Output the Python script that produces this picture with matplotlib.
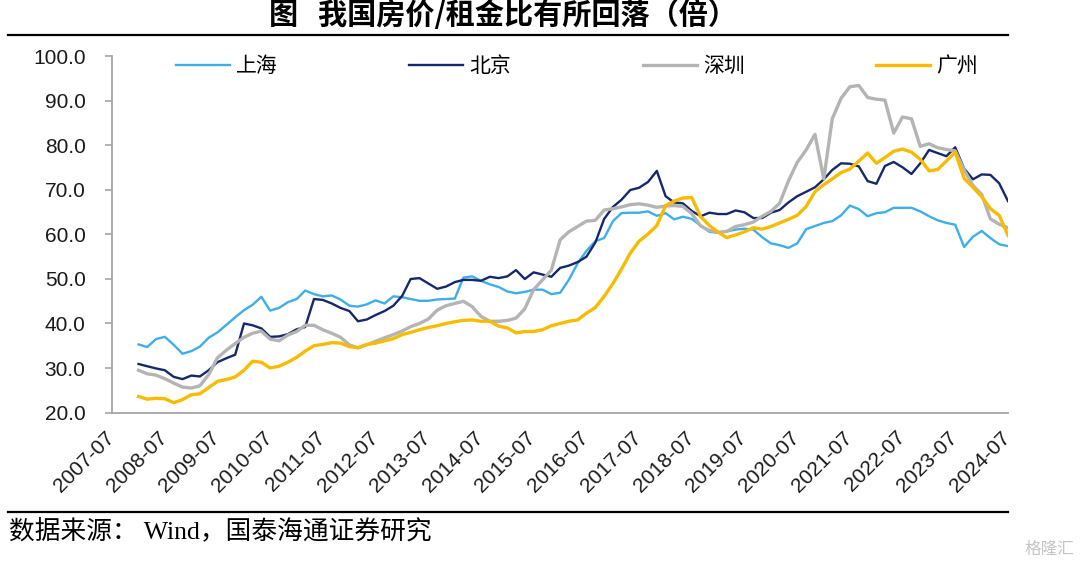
import pandas as pd
import matplotlib
matplotlib.use('Agg')
import matplotlib.pyplot as plt
from matplotlib.lines import Line2D
from matplotlib.patches import Rectangle
from matplotlib.transforms import ScaledTranslation

plt.rcParams['font.family'] = ['Liberation Sans', 'Noto Sans CJK SC']

# bi-monthly readings, 2008-01 .. 2024-07
dates = pd.date_range('2008-01-01', '2024-07-01', freq='2MS')

shanghai = [35.3, 34.7, 36.5, 37.0, 35.2, 33.2, 33.8, 34.8, 36.8, 38.0, 39.7, 41.4, 43.0, 44.2, 46.0, 42.9,
            43.5, 44.8, 45.5, 47.4, 46.6, 46.1, 46.3, 45.4, 44.0, 43.8, 44.3, 45.2, 44.5, 46.1, 45.9,
            45.5, 45.1, 45.1, 45.4, 45.5, 45.6, 50.3, 50.6, 49.6, 48.8, 48.2, 47.2, 46.8, 47.1, 47.6, 47.6,
            46.6, 46.9, 49.8, 53.5, 56.3, 58.5, 59.2, 63.0, 64.8, 64.9, 64.9, 65.2, 64.2, 64.8, 63.4, 64.0, 63.5,
            62.0, 60.6, 60.4, 60.7, 61.1, 61.3, 61.1, 59.4, 58.0, 57.6, 57.0, 58.0, 61.2, 61.9, 62.6, 63.0,
            64.3, 66.5, 65.7, 64.1, 64.8, 65.0, 66.0, 66.0, 66.0, 65.2, 64.1, 63.2, 62.6, 62.2, 57.2, 59.5,
            60.8, 59.2, 57.8, 57.4]

beijing = [30.9, 30.4, 29.9, 29.5, 28.0, 27.5, 28.3, 28.1, 29.5, 31.3, 32.2, 33.0, 40.0, 39.6, 38.9, 37.0,
           37.1, 37.6, 38.7, 39.2, 45.5, 45.3, 44.5, 43.5, 42.8, 40.5, 40.9, 41.9, 42.8, 44.0, 46.2,
           50.0, 50.2, 49.0, 47.8, 48.3, 49.3, 49.8, 49.8, 49.6, 50.5, 50.2, 50.6, 52.0, 50.0, 51.5, 51.0,
           50.5, 52.5, 53.0, 53.8, 55.0, 58.2, 63.5, 66.2, 67.8, 70.0, 70.5, 71.8, 74.3, 68.6, 67.2, 67.0, 65.3,
           64.1, 64.9, 64.6, 64.6, 65.4, 65.0, 63.7, 63.7, 64.9, 65.5, 67.2, 68.6, 69.6, 70.6, 72.4, 74.5,
           76.0, 75.9, 75.3, 72.0, 71.4, 75.4, 76.3, 75.1, 73.6, 76.0, 79.0, 78.3, 77.6, 79.6, 74.8, 72.4,
           73.5, 73.4, 71.5, 67.5]

shenzhen = [29.5, 28.7, 28.4, 27.6, 26.6, 25.7, 25.5, 26.0, 28.5, 32.3, 34.0, 35.5, 36.9, 37.8, 38.3, 36.5,
            36.1, 37.4, 38.2, 39.6, 39.6, 38.6, 37.8, 36.9, 35.2, 34.5, 35.2, 36.0, 36.8, 37.5, 38.3,
            39.3, 40.0, 41.0, 43.0, 44.0, 44.5, 45.0, 43.8, 41.6, 40.5, 40.5, 40.7, 41.2, 43.3, 47.6, 49.8,
            52.0, 58.8, 60.6, 61.8, 63.0, 63.2, 65.5, 65.8, 66.2, 66.7, 66.9, 66.6, 66.1, 66.4, 66.5, 66.3, 64.7,
            61.9, 60.9, 60.5, 60.7, 61.8, 62.2, 62.8, 64.1, 65.2, 67.0, 72.0, 76.2, 79.0, 82.5, 72.5, 86.0,
            90.6, 93.2, 93.5, 90.8, 90.4, 90.2, 82.8, 86.4, 86.0, 79.8, 80.4, 79.5, 79.1, 78.8, 74.5, 71.0,
            69.0, 63.5, 62.3, 61.5]

guangzhou = [23.6, 23.0, 23.2, 23.1, 22.2, 22.9, 24.0, 24.2, 25.6, 27.0, 27.4, 28.0, 29.5, 31.5, 31.3, 30.0,
             30.4, 31.3, 32.4, 33.8, 35.0, 35.3, 35.7, 35.6, 34.8, 34.6, 35.3, 35.6, 36.1, 36.6, 37.5,
             38.0, 38.6, 39.1, 39.5, 40.0, 40.4, 40.7, 40.8, 40.5, 40.5, 39.4, 39.0, 37.9, 38.2, 38.2, 38.6,
             39.5, 40.0, 40.5, 40.8, 42.3, 43.6, 46.1, 49.0, 52.2, 55.8, 58.5, 60.1, 62.0, 66.5, 67.5, 68.2, 68.3,
             64.0, 62.0, 60.5, 59.3, 59.9, 60.6, 61.5, 61.2, 61.8, 62.6, 63.4, 64.3, 66.3, 69.6, 71.2, 72.5,
             73.9, 74.7, 76.5, 78.3, 76.0, 77.3, 78.7, 79.2, 78.5, 76.9, 74.3, 74.6, 76.5, 78.5, 72.6, 70.6,
             68.5, 65.8, 64.3, 59.8]

tick_labels = ['2007-07', '2008-07', '2009-07', '2010-07', '2011-07', '2012-07', '2013-07', '2014-07',
               '2015-07', '2016-07', '2017-07', '2018-07', '2019-07', '2020-07', '2021-07', '2022-07',
               '2023-07', '2024-07']
yticks = [20, 30, 40, 50, 60, 70, 80, 90, 100]

W, H = 1080, 564
fig = plt.figure(figsize=(W / 100, H / 100), dpi=100)
ax = fig.add_axes([112 / W, (H - 412.5) / H, (1008 - 112) / W, (412.5 - 56.5) / H])

series = [
    ('上海', shanghai, '#3daee9', 1.7),
    ('北京', beijing, '#16286a', 1.7),
    ('深圳', shenzhen, '#b4b4b4', 2.4),
    ('广州', guangzhou, '#f7bb00', 2.4),
]
for name, vals, color, lw in series:
    ax.plot(dates, vals, color=color, lw=lw, label=name, solid_joinstyle='round')

ax.set_ylim(20, 100)
ax.set_yticks(yticks)
ax.set_yticklabels([f'{v:.1f}' for v in yticks])
tick_dates = pd.to_datetime([t + '-01' for t in tick_labels])
ax.set_xlim(tick_dates[0], tick_dates[-1])
ax.set_xticks(tick_dates)
ax.set_xticklabels(tick_labels, rotation=45, ha='right')

for s in ['top', 'right']:
    ax.spines[s].set_visible(False)
for s in ['left', 'bottom']:
    ax.spines[s].set_color('#a6a6a6')
    ax.spines[s].set_linewidth(1.3)
ax.tick_params(axis='y', length=5, width=1.2, color='#a6a6a6', pad=14, labelsize=15, labelcolor='#1a1a1a')
ax.tick_params(axis='x', length=0, pad=11, labelsize=15, labelcolor='#1a1a1a')

shift = ScaledTranslation(6 / 100, 0, fig.dpi_scale_trans)
for lab in ax.get_xticklabels():
    lab.set_transform(lab.get_transform() + shift)

ax.legend(ncol=4, loc='center', bbox_to_anchor=(577 / W, 1 - 66 / H), bbox_transform=fig.transFigure,
          frameon=False, fontsize=15, handlelength=2.6, handletextpad=0.3, columnspacing=6.3)

# the source picture is cut off just right of the plot, hiding part of the last tick label
fig.add_artist(Rectangle((1008 / W, 1 - 508 / H), 72 / W, 90 / H, transform=fig.transFigure,
                         facecolor='white', edgecolor='none', zorder=10))

fig.text(503 / W, 1 - 15 / H, '图   我国房价/租金比有所回落（倍）', ha='center', va='center',
         fontsize=21, fontweight='bold', family=['Noto Sans CJK SC'])
fig.add_artist(Line2D([8 / W, 1008 / W], [1 - 34.5 / H] * 2, color='black', lw=1.6))
fig.add_artist(Line2D([8 / W, 1008 / W], [1 - 512 / H] * 2, color='black', lw=1.6))
fig.text(9 / W, 1 - 532 / H, '数据来源： Wind，国泰海通证券研究', ha='left', va='center',
         fontsize=18.5, family=['Liberation Serif', 'Noto Sans CJK SC'])
fig.text(1074 / W, 1 - 549 / H, '格隆汇', ha='right', va='center', fontsize=12, color='#c4c4c4')

fig.savefig('out.png', dpi=100, facecolor='white')
